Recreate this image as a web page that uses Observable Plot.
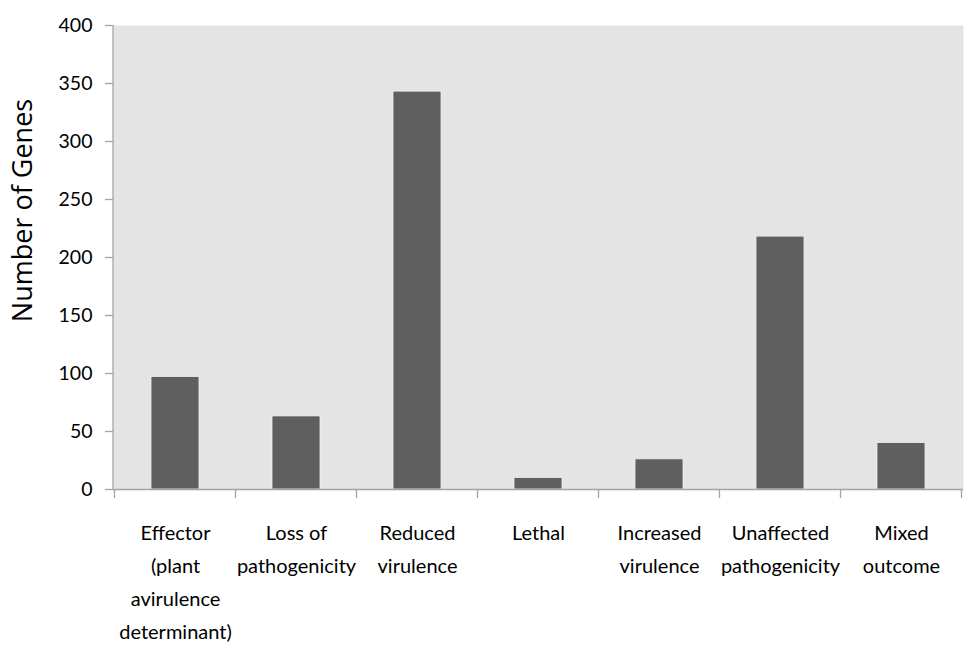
<!DOCTYPE html>
<html>
<head>
<meta charset="utf-8">
<script src="https://cdn.jsdelivr.net/npm/d3@7"></script>
<script src="https://cdn.jsdelivr.net/npm/@observablehq/plot@0.6"></script>
<style>
  html, body { margin: 0; padding: 0; background: #ffffff; }
  #chart svg { display: block; }
</style>
</head>
<body>
<div id="chart"></div>
<script>
const categories = [
  "Effector (plant avirulence determinant)",
  "Loss of pathogenicity",
  "Reduced virulence",
  "Lethal",
  "Increased virulence",
  "Unaffected pathogenicity",
  "Mixed outcome"
];
const categoryLabels = [
  "Effector\n(plant\navirulence\ndeterminant)",
  "Loss of\npathogenicity",
  "Reduced\nvirulence",
  "Lethal",
  "Increased\nvirulence",
  "Unaffected\npathogenicity",
  "Mixed\noutcome"
];
const geneCounts = [97, 63, 343, 10, 26, 218, 40];
const yTicks = [0, 50, 100, 150, 200, 250, 300, 350, 400];
const yLabel = "Number of Genes";

const data = categories.map((c, i) => ({category: c, label: categoryLabels[i], count: geneCounts[i]}));

const axisGray = "#a3a3a3";

// y-axis line and category boundary ticks, positioned from the x band scale
function axisLines(index, scales, values, dim) {
  const x = scales.x;
  const starts = categories.map(c => x(c));
  const bw = typeof x.bandwidth === "function" ? x.bandwidth() : 0;
  const gap = starts.length > 1 ? (starts[1] - starts[0] - bw) : 0;
  const bounds = starts.map(s => s - gap / 2);
  bounds.push(starts[starts.length - 1] + bw + gap / 2);
  const y0 = dim.height - dim.marginBottom;
  const g = d3.create("svg:g").attr("stroke", axisGray).attr("stroke-width", 1.3);
  g.append("line")
    .attr("x1", dim.marginLeft).attr("x2", dim.marginLeft)
    .attr("y1", dim.marginTop).attr("y2", y0);
  for (const b of bounds) {
    g.append("line").attr("x1", b).attr("x2", b).attr("y1", y0).attr("y2", y0 + 9);
  }
  return g.node();
}

const chart = Plot.plot({
  width: 964,
  height: 647,
  marginLeft: 113,
  marginRight: 1,
  marginTop: 25,
  marginBottom: 158,
  style: {fontFamily: "Lato, sans-serif", fontSize: "19px", color: "#000", background: "#fff"},
  x: {domain: categories, paddingInner: 0.6, paddingOuter: 0.3, axis: null},
  y: {domain: [0, 400], axis: null},
  marks: [
    Plot.frame({fill: "#e4e4e4", stroke: "none"}),
    Plot.barY(data, {x: "category", y: "count", fill: "#5f5f5f", stroke: "#f0f0f0", strokeWidth: 0.8}),
    Plot.ruleY([0], {stroke: axisGray, strokeWidth: 1.3}),
    axisLines,
    Plot.axisY(yTicks, {tickSize: 8, tickPadding: 13, stroke: axisGray, strokeWidth: 1.3, color: "#000", fill: "#000", fontSize: 19.5, label: null}),
    Plot.text(data, {x: "category", text: "label", frameAnchor: "bottom", lineAnchor: "top", dy: 27, lineHeight: 1.65, fontSize: 20, fill: "#000"}),
    Plot.text([yLabel], {text: d => d, frameAnchor: "left", textAnchor: "middle", rotate: -90, dx: -90, dy: -47, fontSize: 27, fontFamily: "Open Sans, sans-serif", fill: "#000"})
  ]
});

document.getElementById("chart").append(chart);
</script>
</body>
</html>
